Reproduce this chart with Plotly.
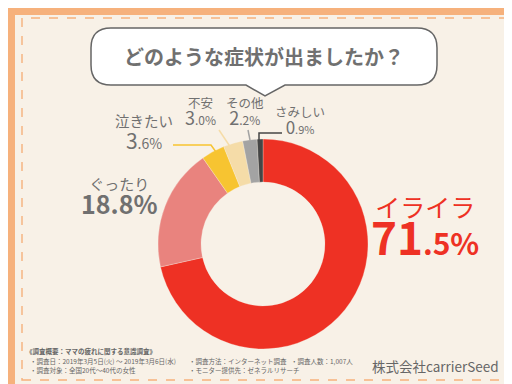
import plotly.graph_objects as go

W, H = 512, 384

# ---- data ----
categories = ["イライラ", "ぐったり", "泣きたい", "不安", "その他", "さみしい"]
values = [71.5, 18.8, 3.6, 3.0, 2.2, 0.9]
colors = ["#EE3124", "#E9837E", "#F7C431", "#F5DCA8", "#A3A3A3", "#454545"]
title_text = "どのような症状が出ましたか？"
footer_lines = [
    ("《調査概要：ママの疲れに関する意識調査》", 16, 343),
    ("・調査日：2019年3月5日(火) ～ 2019年3月6日(水)", 20, 353),
    ("・調査方法：インターネット調査", 179, 353),
    ("・調査人数：1,007人", 281, 353),
    ("・調査対象：全国20代～40代の女性", 20, 362),
    ("・モニター提供先：ゼネラルリサーチ", 179, 362),
]
company = "株式会社carrierSeed"

BG = "#F8F1E7"
ORANGE = "#F6B17C"
GRAY = "#707070"
FONT = "Noto Sans CJK JP"


def px(x):
    return x / W


def py(y):
    return 1 - y / H


# donut geometry (pixels)
cx, cy, R = 255, 236, 105

fig = go.Figure(go.Pie(
    labels=categories, values=values, sort=False, direction="clockwise",
    rotation=0, hole=0.59, textinfo="none", hoverinfo="label+percent",
    marker=dict(colors=colors, line=dict(color=BG, width=0.3)),
    domain=dict(x=[px(cx - R), px(cx + R)], y=[py(cy + R), py(cy - R)]),
    showlegend=False,
))

shapes = []
# inner cream panel
shapes.append(dict(type="rect", xref="paper", yref="paper",
                   x0=px(7), x1=px(505), y0=py(377), y1=py(7),
                   fillcolor=BG, line=dict(width=0), layer="below"))
# dashed border
shapes.append(dict(type="rect", xref="paper", yref="paper",
                   x0=px(14), x1=px(499), y0=py(372), y1=py(10),
                   fillcolor="rgba(0,0,0,0)",
                   line=dict(color=ORANGE, width=1.4, dash="dash"), layer="below"))


def P(x, y):
    return f"{px(x):.5f},{py(y):.5f}"


# speech bubble path
L, Rr, T, B, r = 83, 429, 20, 77, 20
path = (f"M {P(L + r, T)} L {P(Rr - r, T)} Q {P(Rr, T)} {P(Rr, T + r)} "
        f"L {P(Rr, B - r)} Q {P(Rr, B)} {P(Rr - r, B)} "
        f"L {P(277, B)} L {P(257, 88)} L {P(238, B)} "
        f"L {P(L + r, B)} Q {P(L, B)} {P(L, B - r)} "
        f"L {P(L, T + r)} Q {P(L, T)} {P(L + r, T)} Z")
shapes.append(dict(type="path", xref="paper", yref="paper", path=path,
                   fillcolor="white", line=dict(color="#666666", width=1.5)))


# leader lines
def line(pts_list, color):
    d = "M " + " L ".join(P(x, y) for x, y in pts_list)
    shapes.append(dict(type="path", xref="paper", yref="paper", path=d,
                       line=dict(color=color, width=1.5)))


line([(165, 137), (203, 137), (208, 144)], colors[2])
line([(211, 122), (225, 143)], colors[3])
line([(240, 122), (242, 132)], colors[4])
line([(251, 133), (251, 125), (274, 125)], colors[5])

ann = []


def text(t, x, y, size, color=GRAY, xanchor="center", bold=False):
    if bold:
        t = f"<b>{t}</b>"
    ann.append(dict(text=t, x=px(x), y=py(y), xref="paper", yref="paper",
                    showarrow=False, xanchor=xanchor, yanchor="middle",
                    align="center",
                    font=dict(family=FONT, size=size, color=color)))


def pct(v, big, small, bold=False):
    s = f"{v:.1f}"
    a, b = s.split(".")
    t = (f"<span style='font-size:{big}px'>{a}</span>"
         f"<span style='font-size:{small}px'>.{b}%</span>")
    return f"<b>{t}</b>" if bold else t


def label(name, name_size, number_html, x, y, spacing, color=GRAY):
    t = f"<span style='font-size:{name_size}px'>{name}</span><br>{number_html}"
    text(t, x, y, spacing / 1.3, color)


text(title_text, 256, 48, 20, GRAY, bold=True)

# labels
label(categories[0], 25, pct(values[0], 44, 30, True), 417, 220, 38, colors[0])
label(categories[1], 15, f"<b><span style='font-size:25px'>{values[1]:.1f}%</span></b>",
      111, 189, 24)
label(categories[2], 14.5, pct(values[2], 21, 14), 136, 125, 22)
label(categories[3], 12.5, pct(values[3], 18, 12), 192, 104, 17)
label(categories[4], 12.5, pct(values[4], 18, 12), 237, 104, 17)
label(categories[5], 12.5, pct(values[5], 17, 11), 292, 113, 17)

for t, x, y in footer_lines:
    text(t, x, y, 6.5, "#666666", xanchor="left", bold=(y == 343))
text(company, 493, 358, 13.5, "#666666", xanchor="right")

fig.update_layout(
    width=W, height=H, margin=dict(l=0, r=0, t=0, b=0),
    paper_bgcolor=ORANGE, plot_bgcolor=BG,
    shapes=shapes, annotations=ann,
)
fig.write_html("out.html")
